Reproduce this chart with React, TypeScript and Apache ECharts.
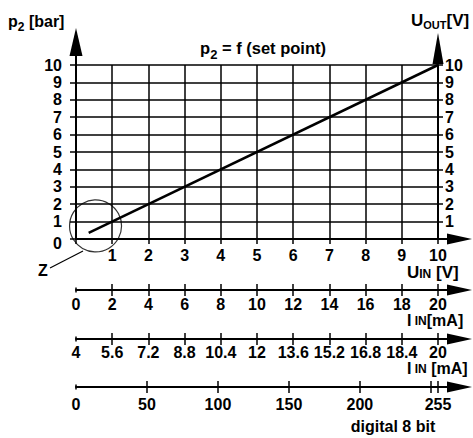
import React, { useEffect, useRef } from 'react';
import * as echarts from 'echarts';

// ---- data ----
const U_IN_LABELS = [1, 2, 3, 4, 5, 6, 7, 8, 9, 10];
const P2_LABELS = [0, 1, 2, 3, 4, 5, 6, 7, 8, 9, 10];
const U_OUT_LABELS = [1, 2, 3, 4, 5, 6, 7, 8, 9, 10];
const SETPOINT_LINE: [number, number][] = [
  [0.35, 0.35],
  [10, 10],
];
const DETAIL_Z: [number, number] = [0.54, 0.75];
const I_0_20_TICKS = [0, 2, 4, 6, 8, 10, 12, 14, 16, 18, 20];
const I_4_20_TICKS = [4, 5.6, 7.2, 8.8, 10.4, 12, 13.6, 15.2, 16.8, 18.4, 20];
const DIGITAL_TICKS = [0, 50, 100, 150, 200, 250, 255];
const DIGITAL_LABELS = [0, 50, 100, 150, 200, 255];

// ---- layout ----
const W = 473;
const H = 438;
const GL = 76;
const GR = 438;
const GT = 65;
const GB = 239;
const SUB_LINES = [290, 339, 387];
const SUB_MARGINS = [6, 5, 9];
const FONT = "'Liberation Sans', Arial, Helvetica, sans-serif";
const BLACK = '#000';

const labelStyle = {
  fontFamily: FONT,
  fontWeight: 'bold' as const,
  fontSize: 16,
  color: BLACK,
};

function arrowRight(y: number) {
  return [
    { type: 'line', shape: { x1: GR, y1: y, x2: 450, y2: y }, style: { stroke: BLACK, lineWidth: 2 } },
    {
      type: 'polygon',
      shape: { points: [[472, y], [447, y - 5.5], [447, y + 5.5]] },
      style: { fill: BLACK },
    },
  ];
}

function richText(x: number, y: number, parts: string, rich: any, align = 'left') {
  return {
    type: 'text',
    x,
    y,
    style: {
      text: parts,
      rich,
      align,
      verticalAlign: 'middle',
      fill: BLACK,
    },
  };
}

function mk(fontSize: number, lineHeight: number, va: string) {
  return { fontSize, lineHeight, fontFamily: FONT, fontWeight: 'bold', color: BLACK, verticalAlign: va };
}

export default function App() {
  const ref = useRef<HTMLDivElement>(null);
  useEffect(() => {
    if (!ref.current) return;
    const chart = echarts.init(ref.current, null, { renderer: 'svg' });

    const tickLine = { color: BLACK, width: 1.5 };
    const subGrids = SUB_LINES.map((y) => ({ left: GL, right: W - GR, top: y - 6, height: 6 }));
    const subY = SUB_LINES.map((_, i) => ({ gridIndex: i + 1, type: 'value', min: 0, max: 1, show: false }));
    const scales = [
      { min: 0, max: 20, ticks: I_0_20_TICKS, labels: I_0_20_TICKS },
      { min: 4, max: 20, ticks: I_4_20_TICKS, labels: I_4_20_TICKS },
      { min: 0, max: 255, ticks: DIGITAL_TICKS, labels: DIGITAL_LABELS },
    ];
    const subAxes: any[] = [];
    scales.forEach((s, i) => {
      subAxes.push({
        gridIndex: i + 1,
        type: 'value',
        position: 'bottom',
        min: s.min,
        max: s.max,
        axisLine: {
          show: true,
          onZero: false,
          symbol: ['rect', 'none'],
          symbolSize: [5, 1.5],
          lineStyle: { color: BLACK, width: 2 },
        },
        axisTick: { show: true, length: 6, customValues: s.ticks.slice(1), lineStyle: tickLine },
        axisLabel: { ...labelStyle, margin: SUB_MARGINS[i], customValues: s.labels },
        splitLine: { show: false },
      });
      subAxes.push({
        gridIndex: i + 1,
        type: 'value',
        position: 'top',
        min: s.min,
        max: s.max,
        axisLine: { show: false, onZero: false },
        axisTick: { show: true, inside: true, length: 6, customValues: s.ticks.slice(1), lineStyle: tickLine },
        axisLabel: { show: false },
        splitLine: { show: false },
      });
    });

    const graphic: any[] = [
      // axis arrows
      { type: 'line', shape: { x1: GL, y1: GT, x2: GL, y2: 54 }, style: { stroke: BLACK, lineWidth: 2 } },
      { type: 'polygon', shape: { points: [[GL, 28], [GL - 6.5, 56], [GL + 6.5, 56]] }, style: { fill: BLACK } },
      { type: 'polygon', shape: { points: [[GR, 33], [GR - 5.5, 64], [GR + 5.5, 64]] }, style: { fill: BLACK } },
      ...arrowRight(GB),
      ...SUB_LINES.flatMap((y) => arrowRight(y)),
      // Z marker leader
      { type: 'line', shape: { x1: 50, y1: 268, x2: 83, y2: 251 }, style: { stroke: BLACK, lineWidth: 1.2 } },
      {
        type: 'text',
        x: 43,
        y: 270,
        style: { text: 'Z', font: `bold 16px ${FONT}`, fill: BLACK, align: 'center', verticalAlign: 'middle' },
      },
      richText(8, 21, '{m|p}{s|2}{m| [bar]}', { m: mk(16, 24, 'middle'), s: mk(12, 12, 'bottom') }),
      richText(263, 48, '{m|p}{s|2}{m| = f (set point)}', { m: mk(16.5, 26, 'middle'), s: mk(13, 13, 'bottom') }, 'center'),
      richText(411, 20, '{m|U}{s|OUT}{m|[V]}', { m: mk(17, 20, 'middle'), s: mk(11, 11, 'bottom') }),
      richText(407, 272, '{m|U}{s|IN}{m| [V]}', { m: mk(17, 15, 'middle'), s: mk(12, 10, 'bottom') }),
      richText(407, 320, '{m|I}{s| IN}{m|[mA]}', { m: mk(16, 14, 'middle'), s: mk(12, 11, 'bottom') }),
      richText(407, 368, '{m|I}{s| IN}{m| [mA]}', { m: mk(16, 14, 'middle'), s: mk(12, 11, 'bottom') }),
      {
        type: 'text',
        x: 393,
        y: 426,
        style: { text: 'digital 8 bit', font: `bold 16px ${FONT}`, fill: BLACK, align: 'center', verticalAlign: 'middle' },
      },
    ];

    chart.setOption({
      animation: false,
      backgroundColor: '#fff',
      grid: [{ left: GL, right: W - GR, top: GT, bottom: H - GB }, ...subGrids],
      xAxis: [
        {
          gridIndex: 0,
          type: 'value',
          min: 0,
          max: 10,
          interval: 1,
          axisLine: { show: true, onZero: false, lineStyle: { color: BLACK, width: 2 } },
          axisTick: { show: true, length: 5, lineStyle: tickLine },
          axisLabel: { ...labelStyle, margin: 8, customValues: U_IN_LABELS },
          splitLine: { show: true, lineStyle: { color: BLACK, width: 1.5 } },
        },
        ...subAxes,
      ],
      yAxis: [
        {
          gridIndex: 0,
          type: 'value',
          position: 'left',
          min: 0,
          max: 10,
          interval: 1,
          axisLine: { show: true, lineStyle: { color: BLACK, width: 2 } },
          axisTick: { show: true, length: 6, lineStyle: tickLine },
          axisLabel: {
            ...labelStyle,
            margin: 14,
            customValues: P2_LABELS,
            formatter: (v: number) => (v === 0 ? '{z|0}' : String(v)),
            rich: { z: { ...labelStyle, padding: [9, 0, 0, 0] } },
          },
          splitLine: { show: true, lineStyle: { color: BLACK, width: 1.5 } },
        },
        {
          gridIndex: 0,
          type: 'value',
          position: 'right',
          min: 0,
          max: 10,
          interval: 1,
          axisLine: { show: true, lineStyle: { color: BLACK, width: 2 } },
          axisTick: { show: true, length: 5, lineStyle: tickLine },
          axisLabel: { ...labelStyle, margin: 7, customValues: U_OUT_LABELS },
          splitLine: { show: false },
        },
        ...subY,
      ],
      series: [
        {
          type: 'line',
          xAxisIndex: 0,
          yAxisIndex: 0,
          data: SETPOINT_LINE,
          showSymbol: false,
          lineStyle: { color: BLACK, width: 2.5 },
          z: 5,
        },
        {
          type: 'scatter',
          xAxisIndex: 0,
          yAxisIndex: 0,
          data: [DETAIL_Z],
          symbol: 'circle',
          symbolSize: 52,
          clip: false,
          itemStyle: { color: 'rgba(0,0,0,0)', borderColor: BLACK, borderWidth: 1.2 },
          z: 6,
        },
      ],
      graphic,
    });
    return () => chart.dispose();
  }, []);
  return <div ref={ref} style={{ width: W, height: H, position: 'absolute', left: 0, top: 0 }} />;
}
